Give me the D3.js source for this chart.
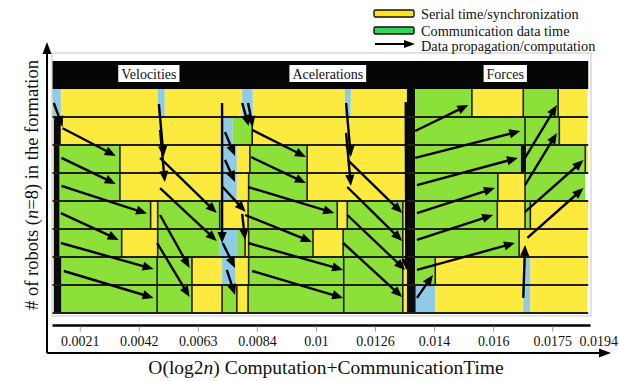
<!DOCTYPE html>
<html>
<head>
<meta charset="utf-8">
<script src="https://cdn.jsdelivr.net/npm/d3@7"></script>
<style>
  html, body { margin: 0; padding: 0; background: #fff; }
  svg { display: block; }
  svg text { font-family: "Liberation Serif", "Tinos", "Times New Roman", "DejaVu Serif", serif !important; }
</style>
</head>
<body>
<svg id="chart" width="619" height="381"></svg>
<script>
// ---- Data ---------------------------------------------------------------
// Time is measured in step units; each step is one labelled tick.
const tickLabels = ["0.0021", "0.0042", "0.0063", "0.0084", "0.01", "0.0126", "0.014", "0.016", "0.0175", "0.0194"];
const tickSteps  = [1, 2, 3, 4, 5, 6, 7, 8, 9, 9.78];

// Computation stages: [name, start step, end step]
const stages = [["Velocities", 0.54, 3.8], ["Acelerations", 3.8, 6.6], ["Forces", 6.8, 9.61]];

// Segment kinds: sync = serial time/synchronization, comm = communication data time,
// idle = waiting, barrier = global barrier
const legendItems = [["sync", "Serial time/synchronization"], ["comm", "Communication data time"]];
const legendArrowLabel = "Data propagation/computation";

// Per-robot timelines: [start, end, kind]
const robot1 = [[0.54,0.68,"idle"],[0.68,2.32,"sync"],[2.32,2.44,"idle"],[2.44,3.75,"sync"],[3.75,3.93,"idle"],[3.93,5.49,"sync"],[5.49,5.59,"idle"],[5.59,6.54,"sync"],[6.54,6.68,"barrier"],[6.68,7.64,"comm"],[7.64,8.51,"sync"],[8.51,9.10,"comm"],[9.10,9.59,"sync"]];
const robot2 = [[0.56,0.68,"barrier"],[0.68,3.42,"sync"],[3.42,3.59,"idle"],[3.59,3.92,"comm"],[3.92,6.54,"sync"],[6.54,6.68,"barrier"],[6.68,8.54,"comm"],[8.54,9.12,"comm"],[9.12,9.59,"sync"]];
const robot3 = [[0.56,0.66,"barrier"],[0.66,1.68,"comm"],[1.68,3.42,"sync"],[3.42,3.66,"idle"],[3.66,3.88,"sync"],[3.88,4.85,"comm"],[4.85,6.54,"sync"],[6.54,6.68,"barrier"],[6.68,8.47,"comm"],[8.47,8.56,"barrier"],[8.56,9.56,"comm"],[9.56,9.61,"sync"]];
const robot4 = [[0.56,0.66,"barrier"],[0.66,1.68,"comm"],[1.68,3.41,"sync"],[3.41,3.66,"idle"],[3.66,3.86,"sync"],[3.86,4.85,"comm"],[4.85,6.54,"sync"],[6.54,6.68,"barrier"],[6.68,8.08,"comm"],[8.08,8.54,"sync"],[8.54,9.56,"comm"]];
const robot5 = [[0.56,0.66,"barrier"],[0.66,2.2,"comm"],[2.2,2.32,"sync"],[2.32,3.37,"comm"],[3.37,3.85,"sync"],[3.85,5.36,"comm"],[5.36,5.53,"sync"],[5.53,6.47,"comm"],[6.47,6.54,"sync"],[6.54,6.68,"barrier"],[6.68,8.07,"comm"],[8.07,8.54,"sync"],[8.54,8.63,"comm"],[8.63,9.61,"sync"]];
const robot6 = [[0.56,0.66,"barrier"],[0.66,1.71,"comm"],[1.71,2.32,"sync"],[2.32,3.36,"comm"],[3.36,3.66,"idle"],[3.66,3.8,"comm"],[3.8,3.86,"sync"],[3.86,4.95,"comm"],[4.95,5.46,"sync"],[5.46,6.47,"comm"],[6.47,6.54,"sync"],[6.54,6.68,"barrier"],[6.68,8.44,"comm"],[8.44,9.59,"sync"]];
const robot7 = [[0.56,0.69,"barrier"],[0.69,2.31,"comm"],[2.31,2.9,"comm"],[2.9,3.41,"sync"],[3.41,3.64,"idle"],[3.64,3.86,"sync"],[3.86,5.47,"comm"],[5.47,6.47,"comm"],[6.47,6.54,"sync"],[6.54,6.68,"barrier"],[6.68,7.02,"comm"],[7.02,8.54,"sync"],[8.54,8.63,"idle"],[8.63,9.61,"sync"]];
const robot8 = [[0.56,0.69,"barrier"],[0.69,2.31,"comm"],[2.31,2.9,"comm"],[2.9,3.41,"sync"],[3.41,3.66,"comm"],[3.66,3.85,"sync"],[3.85,5.47,"comm"],[5.47,6.47,"comm"],[6.47,6.54,"sync"],[6.54,6.69,"barrier"],[6.69,7.02,"idle"],[7.02,8.51,"sync"],[8.51,8.63,"idle"],[8.63,9.59,"sync"]];
const robots = [robot1, robot2, robot3, robot4, robot5, robot6, robot7, robot8];

// Data propagation arrows: [from step, from row, to step, to row] (row 0 = top of robot 1)
const velocityArrows = [
  [0.56,0.5,0.71,1.36],[0.71,1.4,1.61,2.39],[0.69,2.46,1.61,3.39],[0.69,3.46,2.14,4.45],
  [0.68,4.43,1.66,5.39],[0.68,5.5,2.25,6.43],[0.73,6.5,2.25,7.46],
  [2.34,0.54,2.42,2.43],[2.36,1.46,2.44,3.32],[2.36,2.46,3.32,4.43],[2.36,3.54,3.32,5.43],
  [2.36,4.5,2.86,6.39],[2.31,5.5,2.86,7.43],
  [3.41,0.5,3.41,5.5],[3.46,1.54,3.63,2.39],[3.46,2.54,3.63,3.32],[3.42,3.5,3.81,4.39],
  [3.75,4.46,3.8,5.39],[3.42,5.5,3.63,6.39],[3.49,6.46,3.63,7.36],
  [3.75,0.5,3.86,1.32],[3.85,0.5,3.93,1.36]
];
const accelerationArrows = [
  [3.92,1.46,4.83,2.43],[3.9,2.43,4.83,3.36],[3.85,3.5,5.31,4.43],[3.8,4.5,4.93,5.46],
  [3.85,5.5,5.46,6.46],[3.92,6.5,5.46,7.46],
  [5.51,0.5,5.59,2.43],[5.51,1.57,5.59,3.46],[5.54,2.54,6.46,4.43],[5.53,3.5,6.46,5.43],
  [5.53,4.5,6.51,6.46],[5.46,5.5,6.46,7.43],[6.52,0.46,6.53,6.46]
];
const forceArrows = [
  [6.68,1.5,7.58,0.57],[6.68,2.46,8.46,1.5],[6.71,3.43,8.42,2.46],[6.71,4.43,8.03,3.54],
  [6.71,5.39,8.0,4.5],[6.71,6.46,8.37,5.5],[6.71,7.46,6.98,6.64],
  [8.54,2.46,9.08,0.57],[8.54,3.43,9.08,1.57],[8.54,4.39,9.53,2.54],[8.58,5.32,9.53,3.54],
  [8.51,7.46,8.54,5.57]
];

// ---- Drawing ------------------------------------------------------------
const FONT = "'Liberation Serif', 'Tinos', 'Times New Roman', 'DejaVu Serif', serif";
const svg = d3.select("#chart").attr("font-family", FONT);
const x = d3.scaleLinear().domain([0.53, 9.64]).range([52, 590]);
const y = d3.scaleLinear().domain([0, robots.length]).range([89, 313]);

const fill = { sync: "#FDEA3E", comm: "#8BE03A", idle: "#8FCBE6", barrier: "#0b0b0b" };
const legendFill = { sync: "#FFE21F", comm: "#34D35C" };
const edgeColor = "#1f1f12";

const allSegs = robots.flat();
const x0 = x(d3.min(allSegs, d => d[0]));
const x1 = x(d3.max(allSegs, d => d[1]));

// light frame around the plot panel
svg.append("rect").attr("x", 52).attr("y", 53).attr("width", 539).attr("height", 263)
  .attr("fill", "none").attr("stroke", "#cfcfcf").attr("stroke-width", 1.2);

// black header band
svg.append("rect").attr("x", x0).attr("y", 61).attr("width", x1 - x0).attr("height", y(0) - 61)
  .attr("fill", "#050505");

// stage titles
stages.forEach(([name, s0, s1]) => {
  const g = svg.append("g");
  const t = g.append("text").attr("x", x((s0 + s1) / 2)).attr("y", 78.5)
    .attr("text-anchor", "middle").attr("font-size", 14).attr("fill", "#111").text(name);
  const bb = t.node().getBBox();
  g.insert("rect", "text").attr("x", bb.x - 3).attr("y", 65).attr("width", bb.width + 6).attr("height", 17)
    .attr("fill", "#fff");
});

// timeline segments
const rowsG = svg.append("g");
robots.forEach((segs, i) => {
  rowsG.selectAll(null).data(segs).enter().append("rect")
    .attr("x", d => x(d[0]))
    .attr("y", y(i))
    .attr("width", d => x(d[1]) - x(d[0]))
    .attr("height", y(i + 1) - y(i))
    .attr("fill", d => fill[d[2]]);
  // dark borders between adjacent working blocks
  const bounds = segs.slice(1).filter((d, k) => {
    const prev = segs[k];
    return d[2] !== "idle" && prev[2] !== "idle" && d[2] !== "barrier" && prev[2] !== "barrier";
  });
  rowsG.selectAll(null).data(bounds).enter().append("line")
    .attr("x1", d => x(d[0])).attr("x2", d => x(d[0]))
    .attr("y1", y(i)).attr("y2", y(i + 1))
    .attr("stroke", edgeColor).attr("stroke-width", 1.6);
});
// row separators
rowsG.selectAll(null).data(d3.range(1, robots.length + 1)).enter().append("line")
  .attr("x1", x0).attr("x2", x1)
  .attr("y1", d => y(d)).attr("y2", d => y(d))
  .attr("stroke", edgeColor).attr("stroke-width", 2);

// arrows
function arrow(g, ax, ay, bx, by, len, half, width) {
  const dx = bx - ax, dy = by - ay, L = Math.hypot(dx, dy);
  const ux = dx / L, uy = dy / L;
  const cx = bx - ux * len, cy = by - uy * len;
  g.append("line").attr("x1", ax).attr("y1", ay).attr("x2", cx + ux * 1).attr("y2", cy + uy * 1)
    .attr("stroke", "#000").attr("stroke-width", width).attr("stroke-linecap", "butt");
  g.append("path")
    .attr("d", `M${bx},${by}L${cx - uy * half},${cy + ux * half}L${cx + uy * half},${cy - ux * half}Z`)
    .attr("fill", "#000");
}
const arrowsG = svg.append("g");
[...velocityArrows, ...accelerationArrows, ...forceArrows].forEach(([a, r1, b, r2]) => {
  arrow(arrowsG, x(a), y(r1), x(b), y(r2), 11, 4.6, 2.4);
});

// time axis
const axisG = svg.append("g").attr("transform", "translate(0,325)")
  .call(d3.axisBottom(x).tickValues(tickSteps).tickFormat((d, i) => tickLabels[i])
    .tickSize(5).tickSizeOuter(0).tickPadding(6));
axisG.attr("font-family", FONT).attr("font-size", 14);
axisG.select(".domain").attr("stroke", "#000").attr("stroke-width", 2.6);
axisG.selectAll(".tick line").attr("stroke", "#9a9a9a").attr("stroke-width", 1).attr("transform", "translate(0,1.5)")
  .attr("opacity", d => d > x.domain()[1] ? 0 : 1);
axisG.selectAll(".tick text").attr("fill", "#111");

// outer axes with arrowheads
const frame = svg.append("g");
frame.append("line").attr("x1", 47).attr("y1", 353).attr("x2", 601).attr("y2", 353)
  .attr("stroke", "#000").attr("stroke-width", 2);
frame.append("line").attr("x1", 47).attr("y1", 353).attr("x2", 47).attr("y2", 52)
  .attr("stroke", "#000").attr("stroke-width", 2);
frame.append("path").attr("d", "M611,353L599,348.5L599,357.5Z").attr("fill", "#000");
frame.append("path").attr("d", "M47,42L42.5,54L51.5,54Z").attr("fill", "#000");

// axis titles
const yTitle = svg.append("text").attr("transform", "translate(38,185) rotate(-90)")
  .attr("text-anchor", "middle").attr("font-size", 18.5).attr("fill", "#111");
yTitle.append("tspan").text("# of robots (");
yTitle.append("tspan").attr("font-style", "italic").text("n");
yTitle.append("tspan").text("=8) in the formation");

const xTitle = svg.append("text").attr("x", 326).attr("y", 374)
  .attr("text-anchor", "middle").attr("font-size", 19.5).attr("fill", "#111");
xTitle.append("tspan").text("O(log2");
xTitle.append("tspan").attr("font-style", "italic").text("n");
xTitle.append("tspan").text(") Computation+CommunicationTime");

// legend
const lg = svg.append("g");
legendItems.forEach(([k, label], i) => {
  lg.append("rect").attr("x", 374).attr("y", 10 + i * 17).attr("width", 40).attr("height", 7)
    .attr("rx", 1.5).attr("fill", legendFill[k]).attr("stroke", "#111").attr("stroke-width", 1.4);
  lg.append("text").attr("x", 421).attr("y", 18.5 + i * 17).attr("font-size", 14.3).attr("fill", "#111").text(label);
});
arrow(lg, 375, 44, 415, 44, 11, 4, 2);
lg.append("text").attr("x", 421).attr("y", 50.5).attr("font-size", 14.3).attr("fill", "#111").text(legendArrowLabel);
</script>
</body>
</html>
